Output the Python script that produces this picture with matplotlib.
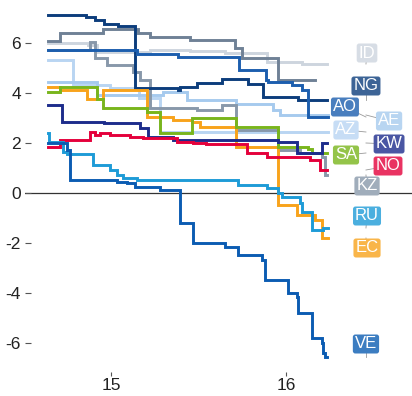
import numpy as np
import matplotlib as mpl
mpl.use('Agg')
import matplotlib.pyplot as plt
from matplotlib.colors import to_rgb

plt.rcParams['font.family'] = ['Liberation Sans', 'DejaVu Sans']

# step series: (year, value) where the value changes,
# last pair is where the series stops
id_ = [(14.640, 6.00), (14.869, 5.92), (14.920, 5.64), (15.223, 5.72), (15.451, 5.68),
       (15.651, 5.60), (15.891, 5.24), (16.091, 5.16), (16.234, 5.16)]
ng = [(14.640, 7.12), (14.857, 7.04), (14.909, 6.92), (14.960, 6.76), (15.040, 6.68),
      (15.137, 4.20), (15.383, 4.12), (15.394, 4.24), (15.491, 4.40), (15.634, 4.56),
      (15.783, 4.36), (15.869, 3.84), (16.069, 3.72), (16.234, 3.72)]
ao = [(14.640, 5.72), (15.149, 5.56), (15.383, 5.44), (15.731, 4.92), (15.886, 4.52),
      (15.897, 4.44), (16.034, 4.32), (16.091, 4.12), (16.126, 3.04), (16.240, 3.04)]
ae = [(14.640, 4.44), (14.920, 3.92), (15.297, 4.04), (15.434, 3.72), (15.714, 3.56),
      (15.926, 3.32), (15.966, 3.12), (16.240, 3.12)]
az = [(14.640, 5.32), (14.783, 4.32), (14.994, 4.20), (15.160, 3.80), (15.280, 2.44),
      (16.240, 2.44)]
kw = [(14.640, 3.52), (14.720, 2.84), (14.960, 2.80), (15.166, 2.60), (15.211, 2.24),
      (15.354, 2.12), (15.954, 2.04), (16.063, 1.60), (16.206, 2.00), (16.234, 2.00)]
sa = [(14.640, 4.04), (14.709, 4.24), (14.920, 3.76), (14.954, 3.40), (15.206, 3.24),
      (15.280, 2.40), (15.463, 3.00), (15.714, 2.64), (15.954, 1.84), (16.126, 1.76),
      (16.149, 1.60), (16.234, 1.60)]
no = [(14.640, 1.84), (14.709, 2.12), (14.880, 2.44), (14.909, 2.32), (14.937, 2.40),
      (14.994, 2.32), (15.109, 2.24), (15.183, 2.20), (15.377, 2.04), (15.469, 2.00),
      (15.543, 1.96), (15.777, 1.60), (15.891, 1.44), (16.137, 1.32), (16.194, 0.92),
      (16.234, 0.92)]
kz = [(14.640, 5.72), (14.880, 6.04), (14.909, 5.40), (14.977, 5.12), (15.126, 4.84),
      (15.166, 4.52), (15.223, 3.40), (15.491, 3.32), (15.634, 3.52), (15.714, 2.52),
      (15.954, 1.72), (16.080, 1.60), (16.206, 1.44), (16.223, 0.72), (16.234, 0.72)]
ru = [(14.640, 2.40), (14.646, 2.04), (14.726, 1.64), (14.749, 1.56), (14.897, 1.12),
      (14.994, 0.92), (15.034, 0.72), (15.069, 0.60), (15.149, 0.52), (15.726, 0.32),
      (15.891, 0.20), (15.954, 0.00), (15.977, -0.16), (16.080, -0.40), (16.091, -0.76),
      (16.149, -1.48), (16.211, -1.40), (16.240, -1.40)]
ec = [(14.640, 4.24), (14.709, 4.12), (14.863, 3.76), (14.954, 4.12), (15.206, 3.04),
      (15.354, 2.92), (15.463, 2.84), (15.509, 2.64), (15.714, 1.84), (15.954, -0.48),
      (16.063, -0.88), (16.166, -1.08), (16.206, -1.80), (16.240, -1.80)]
ve = [(14.640, 2.00), (14.749, 1.72), (14.766, 0.52), (15.034, 0.44), (15.091, 0.40),
      (15.137, 0.24), (15.280, 0.12), (15.394, -1.20), (15.469, -2.00), (15.651, -2.16),
      (15.726, -2.48), (15.863, -2.68), (15.880, -3.48), (16.011, -4.00), (16.063, -4.16),
      (16.069, -4.80), (16.149, -5.80), (16.206, -6.00), (16.211, -6.40), (16.223, -6.56),
      (16.234, -6.56)]
# one more grey series that carries no label
other = [(14.640, 6.08), (14.709, 6.40), (14.954, 6.56), (15.154, 6.40), (15.223, 6.24),
         (15.451, 6.12), (15.709, 5.80), (15.749, 5.40), (15.954, 4.52), (16.166, 4.52)]

codes = ['ID', 'NG', 'AO', 'AE', 'AZ', 'KW', 'SA', 'NO', 'KZ', 'RU', 'EC', 'VE']
series = {'ID': id_, 'NG': ng, 'AO': ao, 'AE': ae, 'AZ': az, 'KW': kw, 'SA': sa,
          'NO': no, 'KZ': kz, 'RU': ru, 'EC': ec, 'VE': ve, 'other': other}

colors = {'ID': '#cdd5de', 'NG': '#0c3d7c', 'AO': '#1c5eae', 'AE': '#a6caee',
          'AZ': '#b9d5f2', 'KW': '#1d2c8c', 'SA': '#79b51c', 'NO': '#e4003b',
          'KZ': '#8898aa', 'RU': '#1e9bd7', 'EC': '#f8a31b', 'VE': '#0b5cb2',
          'other': '#6f8196'}

# label placement (repelled positions as in the picture)
label_x = [16.463, 16.457, 16.337, 16.589, 16.343, 16.589, 16.343, 16.583,
           16.463, 16.463, 16.463, 16.457]
label_y = [5.60, 4.28, 3.44, 2.88, 2.52, 1.96, 1.52, 1.08, 0.28, -0.92, -2.20, -6.04]
anchor_x = 16.457

draw_order = ['ID', 'AZ', 'AE', 'other', 'KZ', 'NG', 'AO', 'EC', 'SA', 'KW', 'NO', 'RU', 'VE']


def soften(c, a=0.8):
    r = np.array(to_rgb(c))
    return tuple(a * r + (1 - a))


fig = plt.figure(figsize=(4.12, 3.96), dpi=100)
ax = fig.add_axes([25 / 412, 24 / 396, 387 / 412, 372 / 396])

ax.axhline(0, color='#333333', lw=0.9, zorder=1)

for name in draw_order:
    pts = np.array(series[name])
    ax.step(pts[:, 0], pts[:, 1], where='post', color=colors[name], lw=2.1,
            zorder=2, solid_joinstyle='miter')

for code, lx, ly in zip(codes, label_x, label_y):
    end = series[code][-1][1]
    ax.plot([lx, anchor_x], [ly, end], color='#999999', lw=0.6, zorder=3)
    ax.text(lx, ly, code, ha='center', va='center', color='white', fontsize=12,
            zorder=4,
            bbox=dict(boxstyle='round,pad=0.12,rounding_size=0.15',
                      fc=soften(colors[code]), ec='none'))

ax.set_xlim(14.509, 16.72)
ax.set_ylim(-7.16, 7.72)
ax.set_xticks([15, 16])
ax.set_xticklabels(['15', '16'])
yt = [-6, -4, -2, 0, 2, 4, 6]
ax.set_yticks(yt)
ax.set_yticklabels([str(v) for v in yt])

for s in ax.spines.values():
    s.set_visible(False)
ax.tick_params(axis='y', direction='in', length=4, width=0.8, color='#555555',
               labelsize=12.5, labelcolor='#222222', pad=3)
ax.tick_params(axis='x', direction='out', length=3, width=0.8, color='#555555',
               labelsize=12.5, labelcolor='#222222', pad=1.5)

fig.savefig('out.png', dpi=100)
